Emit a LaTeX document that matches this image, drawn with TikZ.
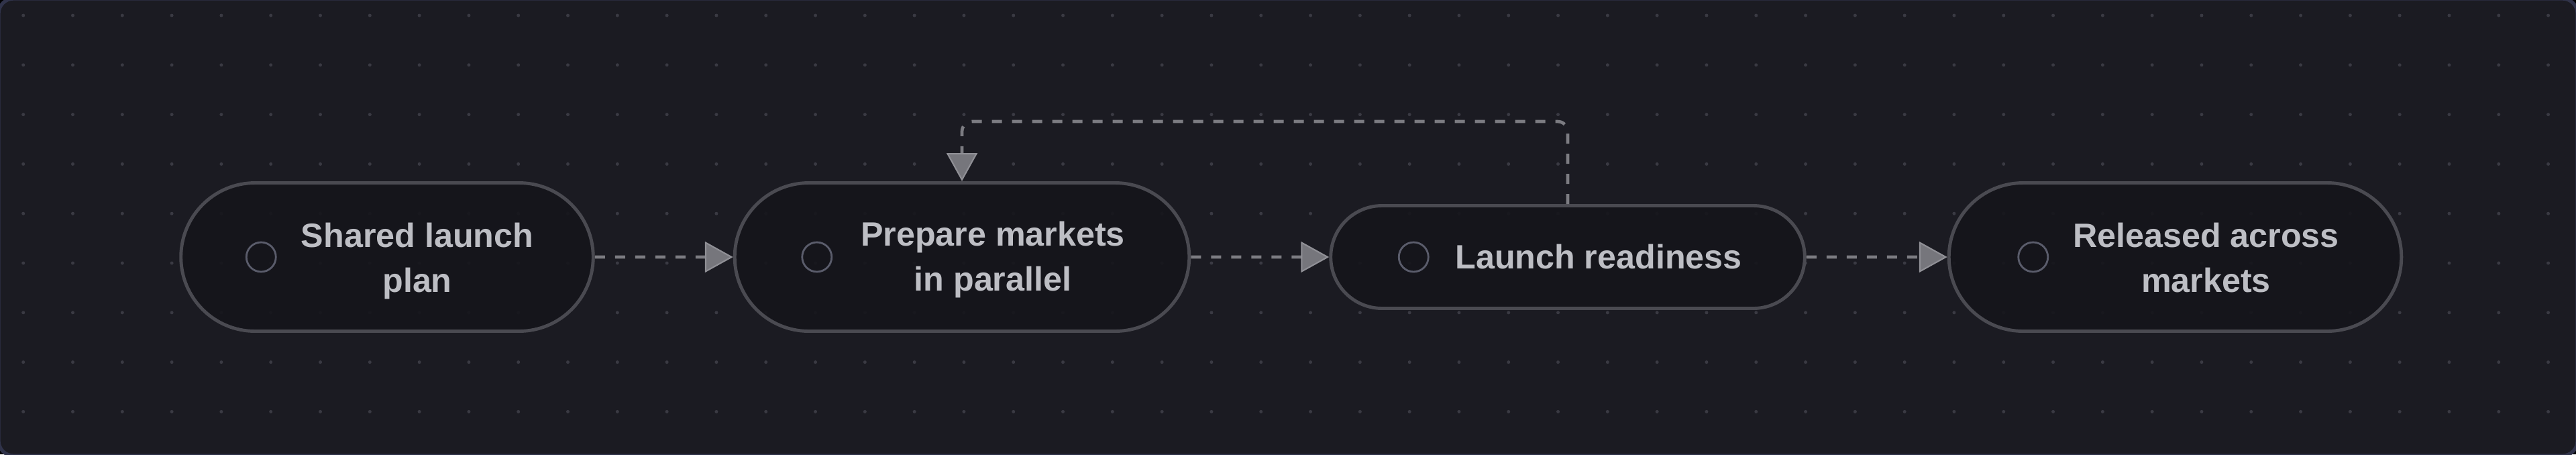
\documentclass[tikz,border=0pt]{standalone}
\usepackage{fontspec}
\setmainfont{Liberation Sans}
\usetikzlibrary{positioning}
\usetikzlibrary{arrows.meta}
\usetikzlibrary{shapes.misc}

\definecolor{canvas}{HTML}{1B1B22}
\definecolor{frameline}{HTML}{30334A}
\definecolor{griddot}{HTML}{3A3A43}
\definecolor{pillfill}{HTML}{15151B}
\definecolor{pillline}{HTML}{4A4A51}
\definecolor{pilltextcol}{HTML}{BDBEC4}
\definecolor{ringline}{HTML}{5A5C6B}
\definecolor{flowline}{HTML}{7C7C82}
\definecolor{tipfill}{HTML}{76767C}
\definecolor{tipline}{HTML}{909096}

\begin{document}
\begin{tikzpicture}[
    node distance=2.1cm,
    every node/.style={font=\bfseries\fontsize{14.3}{18.8}\selectfont},
    pill/.style={rounded rectangle, draw=pillline, fill=pillfill, fill opacity=0.9, line width=1.4pt, minimum height=2.21cm},
    pilltext/.style={text=pilltextcol, align=center, inner sep=0pt},
    ring/.style={circle, draw=ringline, line width=0.8pt, minimum size=0.44cm, inner sep=0pt},
    flow/.style={draw=flowline, line width=1.35pt, dash pattern=on 0.15cm off 0.15cm, -{Triangle[length=0.42cm, width=0.46cm, fill=tipfill, color=tipline, line width=0.6pt]}}
]
\useasboundingbox (0,0) rectangle (38.4,-6.77);
\fill[black] (0,0) rectangle (38.4,-6.77);
\draw[fill=canvas, draw=frameline, line width=1.5pt, rounded corners=0.22cm] (-0.02,0.02) rectangle (38.42,-6.79);
\foreach \i in {0,...,51}
  \foreach \j in {0,...,8}
    \fill[griddot] (0.347+0.738*\i, -0.23-0.738*\j) circle (0.025);

\node[pill, minimum width=6.38cm] (plan) at (5.77,-3.83) {};
\node[pill, minimum width=7.01cm, right=2.06cm of plan] (prepare) {};
\node[pill, minimum width=7.30cm, minimum height=1.53cm, right=2.06cm of prepare] (ready) {};
\node[pill, minimum width=6.98cm, right=2.10cm of ready] (released) {};

\node[ring] (planring) at ([xshift=1.22cm]plan.west) {};
\node[ring] (preparering) at ([xshift=1.25cm]prepare.west) {};
\node[ring] (readyring) at ([xshift=1.26cm]ready.west) {};
\node[ring] (releasedring) at ([xshift=1.28cm]released.west) {};

\node[pilltext] (plantext) at ([xshift=0.45cm, yshift=-0.06cm]plan.center) {Shared launch\\plan};
\node[pilltext] (preparetext) at ([xshift=0.46cm, yshift=-0.04cm]prepare.center) {Prepare markets\\in parallel};
\node[pilltext] (readytext) at ([xshift=0.46cm]ready.center) {Launch readiness};
\node[pilltext] (releasedtext) at ([xshift=0.46cm, yshift=-0.01cm]released.center) {Released across\\markets};

\draw[flow] (plan) -- (prepare);
\draw[flow] (prepare) -- (ready);
\draw[flow] (ready) -- (released);
\draw[flow, rounded corners=0.15cm] (ready.north) -- ++(0,1.23) -| (prepare.north);
\end{tikzpicture}
\end{document}
